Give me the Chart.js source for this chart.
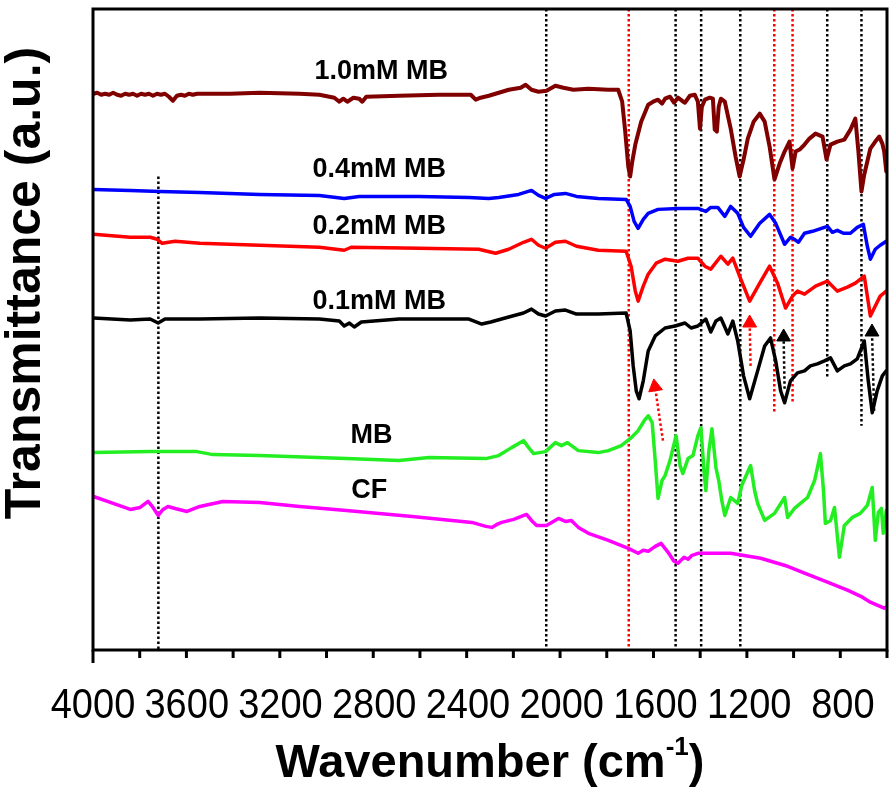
<!DOCTYPE html>
<html><head><meta charset="utf-8">
<script src="https://cdn.jsdelivr.net/npm/chart.js@4/dist/chart.umd.min.js"></script>
<style>html,body{margin:0;padding:0;background:#fff}</style>
</head><body>
<canvas id="c" width="896" height="792"></canvas>
<script>
// ---- Data (wavenumber cm-1, transmittance a.u.) ----
const wn10 = [3998,3982,3965,3948,3931,3914,3897,3880,3863,3846,3829,3812,3795,3778,3761,3744,3727,3710,3693,3676,3659,3642,3625,3608,3591,3574,3556,3501,3416,3289,3119,3034,2970,2949,2932,2915,2889,2864,2851,2834,2694,2524,2388,2367,2346,2311,2226,2175,2154,2129,2099,2065,2027,1993,1950,1886,1801,1759,1742,1729,1716,1708,1699,1686,1661,1631,1610,1589,1572,1559,1538,1521,1504,1487,1474,1453,1432,1419,1410,1402,1389,1368,1355,1347,1338,1330,1321,1304,1279,1258,1241,1224,1206,1181,1155,1134,1113,1092,1070,1049,1028,1015,1002,985,964,943,917,887,870,853,824,794,768,747,734,721,709,683,662,645,632,624,615];
const t10  = [558,559,557,558,557,559,557,556,558,557,558,556,558,557,558,556,558,557,558,555,551,556,557,556,558,557,558,558,558,559,558,557,554,550,553,550,554,553,550,555,556,557,557,552,554,556,562,564,567,562,560,561,566,564,562,563,562,562,550,520,485,475,490,507,530,547,550,552,548,553,555,549,554,551,549,556,557,550,523,545,552,554,553,522,520,545,553,550,523,495,475,492,513,530,538,530,505,472,488,500,510,483,500,502,507,513,518,515,492,507,510,512,522,533,500,460,477,503,510,515,508,500,480];

const wn04 = [3998,3841,3714,3544,3289,3034,2928,2864,2609,2396,2311,2269,2184,2129,2099,2069,2031,1984,1937,1844,1725,1708,1691,1674,1652,1631,1589,1504,1419,1385,1364,1334,1304,1279,1249,1224,1194,1155,1113,1087,1049,1024,1007,990,964,930,866,845,824,798,768,739,713,696,683,662,641,615];
const t04  = [462,461,460,459,457,456,453,455,455,454,453,454,457,461,456,453,457,458,455,453,452,445,430,423,432,438,442,443,443,440,444,444,435,445,438,424,415,428,437,428,407,414,412,409,418,420,425,419,421,418,418,424,427,405,392,402,406,410];

const wn02 = [3998,3841,3756,3726,3705,3650,3544,3289,3034,2928,2898,2609,2354,2282,2226,2163,2129,2099,2069,2027,1984,1937,1844,1725,1704,1686,1674,1652,1631,1597,1559,1504,1461,1419,1389,1364,1321,1291,1270,1241,1198,1155,1113,1079,1045,1015,994,964,917,866,824,781,747,709,696,683,662,641,615];
const t02  = [417,414,414,412,408,410,408,406,404,401,404,403,402,398,402,409,412,406,403,409,410,405,401,400,385,360,350,365,377,388,392,390,393,393,385,382,395,387,393,375,350,368,385,368,343,355,360,357,365,370,360,364,368,375,355,335,345,355,360];

const wn01 = [3998,3841,3756,3722,3693,3544,3289,3034,2949,2928,2906,2885,2855,2694,2396,2341,2303,2226,2163,2129,2099,2069,2027,1984,1937,1844,1725,1708,1695,1682,1670,1652,1631,1601,1559,1516,1474,1448,1419,1385,1364,1342,1321,1291,1270,1249,1224,1198,1164,1134,1109,1087,1066,1049,1024,994,964,939,909,879,853,824,794,768,739,709,692,675,654,632,615];
const t01  = [333,331,332,328,332,332,333,332,330,325,328,324,329,332,332,327,329,334,338,342,337,335,340,341,337,337,338,320,285,260,252,270,300,315,323,325,328,323,325,332,319,330,333,317,330,310,275,252,280,305,313,290,260,248,270,278,280,285,287,290,293,280,285,287,292,310,270,238,260,275,280];

const wnMB = [3998,3756,3556,3488,3289,2919,2694,2566,2324,2269,2214,2163,2141,2120,2069,2027,2001,1976,1929,1844,1801,1746,1708,1674,1648,1631,1614,1601,1589,1572,1559,1538,1512,1495,1483,1461,1440,1419,1406,1393,1385,1372,1359,1342,1330,1317,1304,1279,1249,1232,1194,1177,1164,1134,1092,1049,1036,1007,951,921,896,883,875,853,836,815,794,760,726,696,675,662,649,636,628,615];
const tMB  = [198,199,199,196,195,192,190,193,192,195,203,210,203,197,199,208,205,208,200,198,200,205,212,220,230,235,228,190,152,170,175,190,215,185,177,192,195,215,223,180,160,200,222,183,170,150,135,153,147,165,185,160,147,130,137,153,133,142,153,170,197,160,127,130,143,93,125,133,137,145,163,110,138,142,117,140];

const wnCF = [3998,3926,3841,3799,3765,3744,3722,3701,3680,3650,3599,3544,3446,3289,3119,2919,2638,2383,2324,2298,2277,2256,2205,2150,2129,2107,2065,2014,1984,1959,1929,1886,1801,1716,1674,1652,1631,1601,1576,1546,1521,1504,1478,1461,1444,1419,1279,1151,1036,964,866,781,717,683,654,624,615];
const tCF  = [154,148,141,143,149,143,135,141,144,142,139,144,149,148,144,140,134,128,124,123,126,128,131,136,130,125,125,132,129,130,123,117,110,102,97,100,99,104,107,98,89,87,93,91,95,97,97,92,84,77,68,60,53,48,45,42,43];

// reference lines (dotted)
const blackLineWn = [3721,2066,1514,1405,1238,867,721];
const blackLineTop = [475,643,643,643,643,643,643];
const blackLineBottom = [0,0,0,0,0,273,225];
const redLineWn = [1714,1093,1015];
const redLineTop = [643,643,643];
const redLineBottom = [0,237,248];

// arrows: tail (wn, value) -> head (wn, value)
const arrowTailWn = [1568,1194,1049,667];
const arrowTailT  = [210,285,262,240];
const arrowHeadWn = [1602,1198,1053,676];
const arrowHeadT  = [264,328,314,319];
const arrowColors = ['#ff0000','#ff0000','#000000','#000000'];
const arrowRot    = [-9,0,0,0];

// series labels
const labelText = ['1.0mM MB','0.4mM MB','0.2mM MB','0.1mM MB','MB','CF'];
const labelWn   = [2770,2779,2779,2779,2812,2821];
const labelT    = [580,482,425,350,215,160];

const xTickLabels = [4000,3600,3200,2800,2400,2000,1600,1200,800];

// ---- build ----
const pts = (xs, ys) => xs.map((x,i)=>({x, y: ys[i]}));
const vlines = (wn, top, bot) => {
  const out = [];
  wn.forEach((w,i)=>{ out.push({x:w,y:top[i]}); out.push({x:w,y:bot[i]}); out.push({x:w,y:null}); });
  return out;
};
const spec = (label, xs, ys, color, lw) => ({label, data: pts(xs,ys), borderColor: color, borderWidth: lw, pointRadius: 0, tension: 0, fill: false, borderJoinStyle: 'round', borderCapStyle: 'round'});

const datasets = [
  spec('CF', wnCF, tCF, '#ff00ff', 3.5),
  spec('MB', wnMB, tMB, '#22ee22', 3.5),
  spec('0.1mM MB', wn01, t01, '#000000', 3.5),
  spec('0.2mM MB', wn02, t02, '#ff0000', 3.5),
  spec('0.4mM MB', wn04, t04, '#0000ff', 3.5),
  spec('1.0mM MB', wn10, t10, '#800000', 4),
  {label:'black lines', data: vlines(blackLineWn, blackLineTop, blackLineBottom), borderColor:'#000', borderWidth:2.5, borderDash:[2.5,2.5], pointRadius:0, spanGaps:false},
  {label:'red lines', data: vlines(redLineWn, redLineTop, redLineBottom), borderColor:'#ff0000', borderWidth:2.5, borderDash:[2.5,2.5], pointRadius:0, spanGaps:false},
];
arrowTailWn.forEach((w,i)=>{
  datasets.push({label:'arrow'+i, data:[{x:w,y:arrowTailT[i]},{x:arrowHeadWn[i],y:arrowHeadT[i]}],
    borderColor: arrowColors[i], backgroundColor: arrowColors[i], borderWidth:2.5, borderDash:[2.5,2.5],
    pointStyle:'triangle', pointRadius:[0,8], pointRotation:[0,arrowRot[i]], pointBorderWidth:1, pointBorderColor: arrowColors[i]});
});

const FONT = "'Liberation Sans', Arial, sans-serif";

const decor = {
  id: 'decor',
  afterDraw(chart) {
    const {ctx, chartArea: a, scales} = chart;
    const xs = scales.x, ys = scales.y;
    ctx.save();
    // frame
    ctx.strokeStyle = '#000'; ctx.lineWidth = 3;
    ctx.strokeRect(a.left, a.top, a.right - a.left, a.bottom - a.top);
    // tick marks
    xs.ticks.forEach(t => {
      const px = xs.getPixelForValue(t.value);
      const len = (t.value % 400 === 0) ? 13 : 8;
      ctx.beginPath(); ctx.moveTo(px, a.bottom); ctx.lineTo(px, a.bottom + len); ctx.stroke();
    });
    // tick labels
    ctx.fillStyle = '#000'; ctx.textAlign = 'center'; ctx.textBaseline = 'middle';
    ctx.font = '38px ' + FONT;
    xTickLabels.forEach(v => {
      const px = xs.getPixelForValue(v);
      ctx.save(); ctx.translate(px, 706); ctx.scale(1, 1.1); ctx.fillText(String(v), 0, 0); ctx.restore();
    });
    // series labels
    ctx.font = 'bold 27px ' + FONT;
    labelText.forEach((s,i) => ctx.fillText(s, xs.getPixelForValue(labelWn[i]), ys.getPixelForValue(labelT[i])));
    // y title
    ctx.save();
    ctx.translate(26, 283); ctx.rotate(-Math.PI/2);
    ctx.font = 'bold 50px ' + FONT;
    ctx.fillText('Transmittance (a.u.)', 0, 0);
    ctx.restore();
    // x title with superscript
    const cx = (a.left + a.right)/2, cy = 764;
    const big = 'bold 47px ' + FONT, small = 'bold 26px ' + FONT;
    const p1 = 'Wavenumber (cm', p2 = '-1', p3 = ')';
    ctx.font = big; const w1 = ctx.measureText(p1).width, w3 = ctx.measureText(p3).width;
    ctx.font = small; const w2 = ctx.measureText(p2).width;
    let x0 = cx - (w1 + w2 + w3)/2;
    ctx.textAlign = 'left';
    ctx.font = big; ctx.fillText(p1, x0, cy);
    ctx.font = small; ctx.fillText(p2, x0 + w1, cy - 16);
    ctx.font = big; ctx.fillText(p3, x0 + w1 + w2, cy);
    ctx.restore();
  }
};

new Chart(document.getElementById('c'), {
  type: 'line',
  data: { datasets },
  options: {
    responsive: false, animation: false, devicePixelRatio: 1,
    layout: { padding: { top: 7, right: 7, left: 0, bottom: 0 } },
    plugins: { legend: { display: false }, tooltip: { enabled: false } },
    scales: {
      x: {
        type: 'linear', min: 612, max: 4000, reverse: true,
        grid: { display: false }, border: { display: false },
        ticks: { display: false, stepSize: 200, includeBounds: false },
        afterFit: s => { s.height = 142; }
      },
      y: {
        type: 'linear', min: 0, max: 643,
        grid: { display: false }, border: { display: false },
        ticks: { display: false },
        afterFit: s => { s.width = 93; }
      }
    }
  },
  plugins: [decor]
});
</script>
</body></html>
